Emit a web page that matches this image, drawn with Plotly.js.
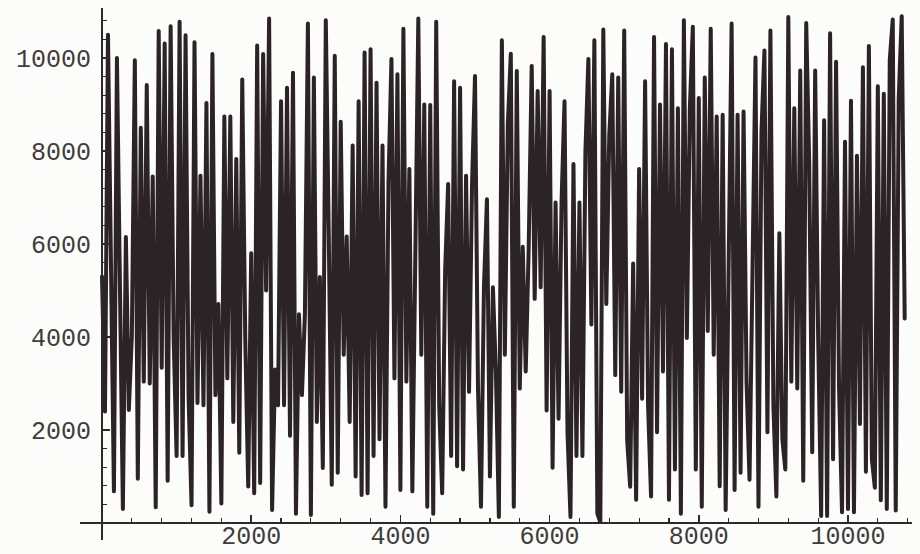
<!DOCTYPE html>
<html>
<head>
<meta charset="utf-8">
<script src="https://cdn.plot.ly/plotly-3.0.1.min.js"></script>
<style>
html,body{margin:0;padding:0;background:#fcfcfb;}
#chart{width:920px;height:554px;}
#chart .scatterlayer path.js-line{stroke-linejoin:round !important;stroke-linecap:round !important;}
</style>
</head>
<body>
<div id="chart"></div>
<script>
// Sequence values, in order along the x axis (step of 40 units)
const segA = [5300,2400,10500,4600,680,10000,4500,300,6150,2430,4030,9950,950,8500,3040,9420,3000,7450,340,10580,3340,10310,910,10680,4000,1440,10780,1440,10490,2740,380,10340,2580];
const segB = [7470,2530,9030,240,10085,2750,4710,420,8740,3110,8740,2170,7830,1510,9540,3980,785,5800,640,10270,860,10085,5000,10850,280,3300,2530,9070,2530,9360,1875,9685,200];
const segC = [4490,2750,4500,10740,170,9580,2170,5290,1185,10810,6160,820,10050,1080,8630,3620,6160,2170,8120,1000,9070,600,10120,640,10190,1440,9470,1800,8120,350,7320,9980,3110,9650,710];
const segD = [10630,3040,7610,680,5220,10850,3620,9000,350,8990,200,10780,2530,640,5440,7290,1440,9500,1220,9360,1150,7470,2820,7250,9610,2890,350,5070,6960,1000];
const segE = [5070,3260,130,10380,3620,8560,10090,350,9720,2890,5940,3260,5940,9830,4820,9290,5070,10450,2420,9290,1190,6890,2240,6890,9070,1950,130,7720,1440,6890,1440,7980,9980,4270,10380,200];
const segF = [20,10610,4710,8340,9650,3180,9580,2820,10590,1770,780,5580,500,7610,2670,9500,2530,570,10450,1950,9000,3260,10300,500,10190,1150,8920,200,10810,3980,8920,10670,1150,9140];
const segG = [350,9580,4130,10630,3620,8740,790,8780,280,6490,10740,710,8780,1080,8850,3040,930,5440,10010,350,8410,10160,1950,10590,2530,570,6230,1800,1150,10880,3040,8920];
const segH = [2890,9730,910,10750,7750,1520,9730,4000,150,8660,150,10530,1370,9920,2900,230,8200,300,9080,230,7900,2130,9800,1100,10260,1370,760,9390,490,9230,300,9960,10830,270,9120,10900,4400];

const xTickVals = [2000,4000,6000,8000,10000];
const xTickText = ["2000","4000","6000","8000","10000"];
const yTickVals = [2000,4000,6000,8000,10000];
const yTickText = ["2000","4000","6000","8000","10000"];

const values = [].concat(segA,segB,segC,segD,segE,segF,segG,segH);

const lineColor = '#2b2326';
const axisColor = '#2a2a2a';
const tickFont = {family: '"Courier New", "Liberation Mono", monospace', size: 25, color: '#403c3c'};

const trace = {
  type: 'scatter',
  mode: 'lines',
  y: values,
  x0: 0,
  dx: 40,
  line: {color: lineColor, width: 4},
  hoverinfo: 'skip'
};

const layout = {
  width: 920,
  height: 554,
  margin: {l: 80, r: 8, t: 8, b: 14},
  paper_bgcolor: '#fcfcfb',
  plot_bgcolor: '#fcfcfb',
  showlegend: false,
  hovermode: false,
  xaxis: {
    range: [-295, 10858],
    anchor: 'free',
    position: 0.032,
    showline: true,
    linecolor: axisColor,
    linewidth: 2,
    showgrid: false,
    zeroline: false,
    ticks: 'inside',
    ticklen: 7,
    tickwidth: 1.5,
    tickcolor: axisColor,
    tickvals: xTickVals,
    ticktext: xTickText,
    tickfont: tickFont,
    ticklabelstandoff: -10,
    minor: {dtick: 400, tick0: 0, ticks: 'inside', ticklen: 4, tickwidth: 1.2, tickcolor: axisColor, showgrid: false}
  },
  yaxis: {
    range: [-366, 11075],
    anchor: 'free',
    position: 0.0264,
    showline: true,
    linecolor: axisColor,
    linewidth: 2,
    showgrid: false,
    zeroline: false,
    ticks: 'inside',
    ticklen: 7,
    tickwidth: 1.5,
    tickcolor: axisColor,
    tickvals: yTickVals,
    ticktext: yTickText,
    tickfont: tickFont,
    ticklabelstandoff: 5,
    minor: {dtick: 400, tick0: 0, ticks: 'inside', ticklen: 4, tickwidth: 1.2, tickcolor: axisColor, showgrid: false}
  }
};

Plotly.newPlot('chart', [trace], layout, {displayModeBar: false, staticPlot: true});
</script>
</body>
</html>
